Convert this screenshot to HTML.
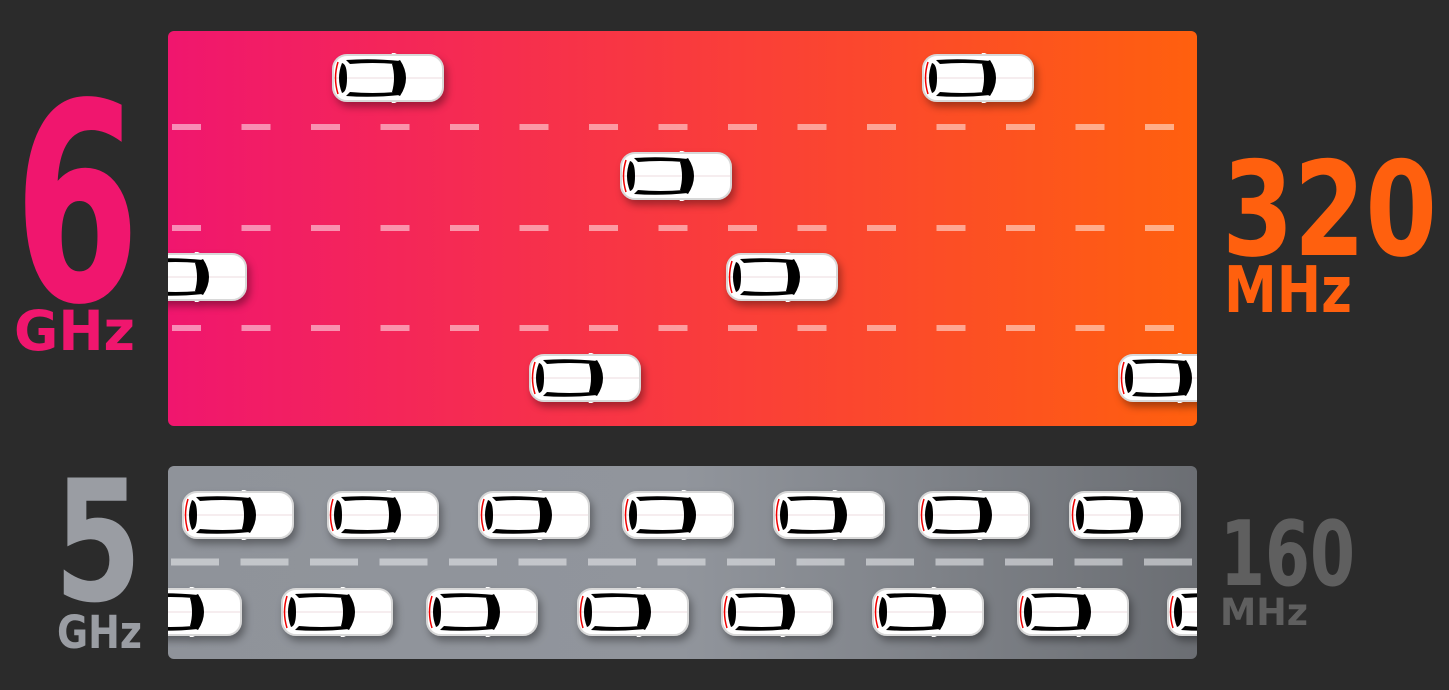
<!DOCTYPE html>
<html><head><meta charset="utf-8"><style>
html,body{margin:0;padding:0;background:#2b2b2b;width:1449px;height:690px;overflow:hidden}
svg{display:block}
text{font-family:"DejaVu Sans","Liberation Sans",sans-serif;font-weight:bold}
</style></head><body>
<svg width="1449" height="690" viewBox="0 0 1449 690" xmlns="http://www.w3.org/2000/svg">
<defs>
<linearGradient id="g1" x1="0" x2="1" y1="0" y2="0"><stop offset="0" stop-color="#f0166e"/><stop offset="0.5" stop-color="#f93a3e"/><stop offset="1" stop-color="#ff600e"/></linearGradient>
<linearGradient id="g2" x1="0" x2="1" y1="0" y2="0"><stop offset="0" stop-color="#8f939a"/><stop offset="0.5" stop-color="#91959c"/><stop offset="1" stop-color="#6b6e73"/></linearGradient>
<filter id="sh" x="-20%" y="-30%" width="150%" height="170%"><feDropShadow dx="3" dy="5" stdDeviation="4" flood-color="#000" flood-opacity="0.35"/></filter>
<clipPath id="c1"><rect x="168" y="31" width="1029" height="395" rx="6"/></clipPath>
<clipPath id="c2"><rect x="168" y="466" width="1029" height="193" rx="6"/></clipPath>
<symbol id="car" viewBox="0 0 112 50" width="112" height="50">
<path d="M62 5 L59 -1 Q66 0 68 5 Z M62 45 L59 51 Q66 50 68 45 Z" fill="#fff"/>
<rect x="1" y="2" width="110" height="46" rx="14" fill="#fff" stroke="#d8d8d8" stroke-width="2"/>
<line x1="2" y1="25" x2="110" y2="25" stroke="#e6cfd5" stroke-width="0.8"/>
<path d="M6 9 Q1 25 6 41" stroke="#e00" stroke-width="1.5" fill="none"/>
<path d="M10 10 Q4 25 10 40 Q15 39 15 25 Q15 11 10 10Z" fill="#000"/>
<path d="M14 7 Q40 5 68 8 L64 11 Q40 9 18 11Z" fill="#000"/>
<path d="M14 43 Q40 45 68 42 L64 39 Q40 41 18 39Z" fill="#000"/>
<path d="M60 11 L68 7 Q80 25 68 43 L60 39 Q64 25 60 11Z" fill="#000"/>
</symbol>
</defs>
<rect x="168" y="31" width="1029" height="395" rx="6" fill="url(#g1)"/>
<g clip-path="url(#c1)">
<g stroke="rgba(255,255,255,0.5)" stroke-width="6" stroke-dasharray="29 40.5">
<line x1="172" y1="127" x2="1197" y2="127"/><line x1="172" y1="228" x2="1197" y2="228"/><line x1="172" y1="328" x2="1197" y2="328"/>
</g>
<g filter="url(#sh)">
<use href="#car" x="332" y="53"/><use href="#car" x="922" y="53"/>
<use href="#car" x="620" y="151"/>
<use href="#car" x="135" y="252"/><use href="#car" x="726" y="252"/>
<use href="#car" x="529" y="353"/><use href="#car" x="1118" y="353"/>
</g></g>
<rect x="168" y="466" width="1029" height="193" rx="6" fill="url(#g2)"/>
<g clip-path="url(#c2)">
<line x1="171" y1="562" x2="1197" y2="562" stroke="rgba(230,232,235,0.6)" stroke-width="7" stroke-dasharray="48 21.5"/>
<g filter="url(#sh)">
<use href="#car" x="182" y="490"/><use href="#car" x="327" y="490"/><use href="#car" x="478" y="490"/><use href="#car" x="622" y="490"/><use href="#car" x="773" y="490"/><use href="#car" x="918" y="490"/><use href="#car" x="1069" y="490"/>
<use href="#car" x="130" y="587"/><use href="#car" x="281" y="587"/><use href="#car" x="426" y="587"/><use href="#car" x="577" y="587"/><use href="#car" x="721" y="587"/><use href="#car" x="872" y="587"/><use href="#car" x="1017" y="587"/><use href="#car" x="1167" y="587"/>
</g></g>
<text x="14" y="300" font-size="275" fill="#f0166e" textLength="126" lengthAdjust="spacingAndGlyphs">6</text>
<text x="14" y="350" font-size="55" fill="#f0166e" textLength="121" lengthAdjust="spacingAndGlyphs">GHz</text>
<text x="1222" y="255" font-size="131" fill="#ff600e" textLength="215" lengthAdjust="spacingAndGlyphs">320</text>
<text x="1224" y="312" font-size="64" fill="#ff600e" textLength="128" lengthAdjust="spacingAndGlyphs">MHz</text>
<text x="54" y="600" font-size="168" fill="#9a9da3" textLength="88" lengthAdjust="spacingAndGlyphs">5</text>
<text x="57" y="648" font-size="45" fill="#9a9da3" textLength="85" lengthAdjust="spacingAndGlyphs">GHz</text>
<text x="1220" y="585" font-size="90" fill="#5f5f5f" textLength="135" lengthAdjust="spacingAndGlyphs">160</text>
<text x="1220" y="625" font-size="37" fill="#5f5f5f" textLength="88" lengthAdjust="spacingAndGlyphs">MHz</text>
</svg>
</body></html>
